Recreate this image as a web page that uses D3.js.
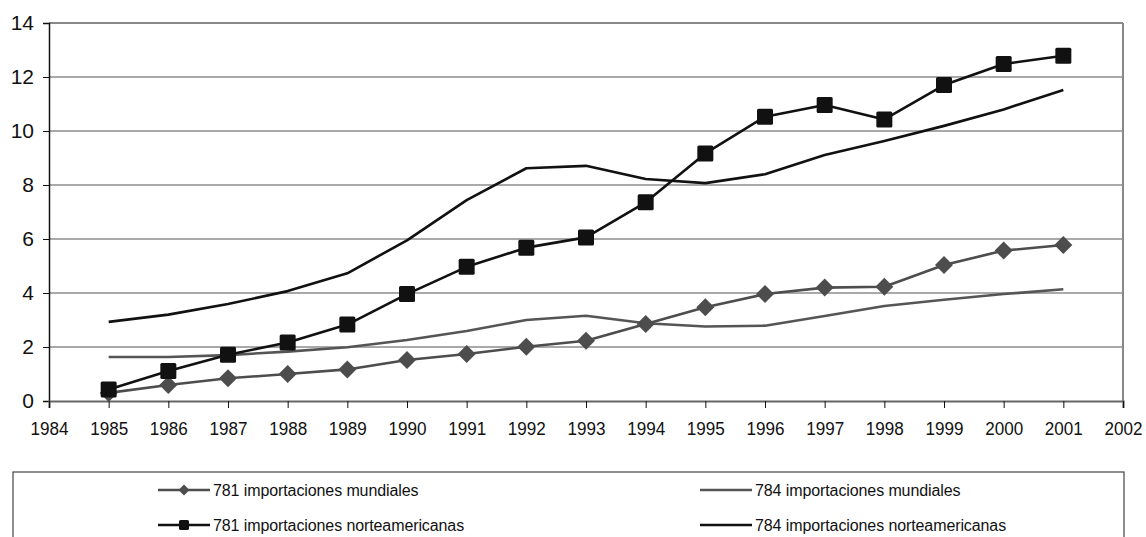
<!DOCTYPE html>
<html>
<head>
<meta charset="utf-8">
<script src="https://cdn.jsdelivr.net/npm/d3@7/dist/d3.min.js"></script>
<style>
  html, body { margin: 0; padding: 0; background: #fff; }
  svg { display: block; font-family: "Liberation Sans", Arial, sans-serif; }
</style>
</head>
<body>
<svg id="chart" width="1146" height="537"></svg>
<script>
// Years on the horizontal axis
const years = [1985, 1986, 1987, 1988, 1989, 1990, 1991, 1992, 1993, 1994, 1995, 1996, 1997, 1998, 1999, 2000, 2001];

// Series values
const mundiales781 = [0.3, 0.59, 0.84, 1.0, 1.17, 1.52, 1.74, 2.01, 2.23, 2.85, 3.47, 3.96, 4.2, 4.23, 5.04, 5.57, 5.78];
const mundiales784 = [1.63, 1.63, 1.7, 1.83, 1.99, 2.26, 2.59, 3.0, 3.16, 2.88, 2.76, 2.79, 3.15, 3.52, 3.75, 3.96, 4.14];
const norte781 = [0.43, 1.11, 1.71, 2.17, 2.83, 3.96, 4.97, 5.68, 6.06, 7.36, 9.17, 10.53, 10.96, 10.43, 11.7, 12.48, 12.79];
const norte784 = [2.93, 3.2, 3.59, 4.07, 4.73, 5.95, 7.44, 8.62, 8.71, 8.22, 8.07, 8.4, 9.11, 9.63, 10.19, 10.8, 11.52];

// Axis ticks
const xTicks = [1984, 1985, 1986, 1987, 1988, 1989, 1990, 1991, 1992, 1993, 1994, 1995, 1996, 1997, 1998, 1999, 2000, 2001, 2002];
const yTicks = [0, 2, 4, 6, 8, 10, 12, 14];

const seriesNames = [
  "781 importaciones mundiales",
  "784 importaciones mundiales",
  "781 importaciones norteamericanas",
  "784 importaciones norteamericanas"
];

const series = [
  { name: seriesNames[0], values: mundiales781, color: "#4d4d4d", marker: "diamond" },
  { name: seriesNames[1], values: mundiales784, color: "#555555", marker: null },
  { name: seriesNames[2], values: norte781, color: "#111111", marker: "square" },
  { name: seriesNames[3], values: norte784, color: "#111111", marker: null }
];

const svg = d3.select("#chart");
const plot = { left: 49, right: 1123, top: 23, bottom: 401 };

const x = d3.scaleLinear().domain([1984, 2002]).range([plot.left, plot.right]);
const y = d3.scaleLinear().domain([0, 14]).range([plot.bottom, plot.top]);

// Horizontal gridlines
svg.append("g")
  .selectAll("line")
  .data(yTicks.filter(v => v > 0 && v < 14))
  .join("line")
  .attr("x1", plot.left).attr("x2", plot.right)
  .attr("y1", d => y(d)).attr("y2", d => y(d))
  .attr("stroke", "#555").attr("stroke-width", 1.2);

// Plot frame: top and right edges
svg.append("line").attr("x1", plot.left).attr("x2", plot.right).attr("y1", plot.top).attr("y2", plot.top)
  .attr("stroke", "#888").attr("stroke-width", 2);
svg.append("line").attr("x1", plot.right).attr("x2", plot.right).attr("y1", plot.top).attr("y2", plot.bottom)
  .attr("stroke", "#888").attr("stroke-width", 2);

// Y axis
const yAxis = svg.append("g")
  .attr("transform", `translate(${plot.left},0)`)
  .call(d3.axisLeft(y).tickValues(yTicks).tickSize(6).tickPadding(9).tickFormat(d3.format("d")));
yAxis.select(".domain").attr("stroke", "#111").attr("stroke-width", 1.5);
yAxis.selectAll(".tick line").attr("stroke", "#111");
yAxis.selectAll(".tick text")
  .attr("font-size", 21).attr("fill", "#111")
  .attr("font-family", "Liberation Sans, Arial, sans-serif");

// X axis
const xAxis = svg.append("g")
  .attr("transform", `translate(0,${plot.bottom})`)
  .call(d3.axisBottom(x).tickValues(xTicks).tickSize(7).tickPadding(14).tickFormat(d3.format("d")));
xAxis.select(".domain").attr("stroke", "#666").attr("stroke-width", 2.2);
xAxis.selectAll(".tick line").attr("stroke", "#111");
xAxis.selectAll(".tick text")
  .attr("font-size", 18).attr("fill", "#111")
  .attr("font-family", "Liberation Sans, Arial, sans-serif")
  .attr("textLength", 38).attr("lengthAdjust", "spacingAndGlyphs");

// Lines
const line = d3.line()
  .x((d, i) => x(years[i]))
  .y(d => y(d));

function drawMarker(g, type, cx, cy, size, color) {
  if (type === "square") {
    g.append("rect")
      .attr("x", cx - size / 2).attr("y", cy - size / 2)
      .attr("width", size).attr("height", size)
      .attr("rx", 1.5)
      .attr("fill", color);
  } else if (type === "diamond") {
    const h = size / 2;
    g.append("path")
      .attr("d", `M${cx},${cy - h}L${cx + h},${cy}L${cx},${cy + h}L${cx - h},${cy}Z`)
      .attr("fill", color);
  }
}

// Draw order: plain lines first, then marker series on top
const drawOrder = [1, 3, 0, 2];
drawOrder.forEach(k => {
  const s = series[k];
  const g = svg.append("g");
  g.append("path")
    .datum(s.values)
    .attr("d", line)
    .attr("fill", "none")
    .attr("stroke", s.color)
    .attr("stroke-width", 2.6)
    .attr("stroke-linejoin", "round");
  if (s.marker) {
    s.values.forEach((v, i) => {
      drawMarker(g, s.marker, x(years[i]), y(v), s.marker === "square" ? 16 : 18, s.color);
    });
  }
});

// Legend
const legend = svg.append("g");
legend.append("rect")
  .attr("x", 13).attr("y", 472).attr("width", 1111).attr("height", 80)
  .attr("fill", "none").attr("stroke", "#444").attr("stroke-width", 1.2);

const legendPos = [
  { sx: 158, ty: 490 },
  { sx: 700, ty: 490 },
  { sx: 158, ty: 525 },
  { sx: 700, ty: 525 }
];

series.forEach((s, k) => {
  const p = legendPos[k];
  const g = legend.append("g");
  g.append("line")
    .attr("x1", p.sx).attr("x2", p.sx + 52)
    .attr("y1", p.ty).attr("y2", p.ty)
    .attr("stroke", s.color).attr("stroke-width", 2.6);
  if (s.marker) {
    drawMarker(g, s.marker, p.sx + 26, p.ty, s.marker === "square" ? 10 : 11, s.color);
  }
  g.append("text")
    .attr("x", p.sx + 55).attr("y", p.ty)
    .attr("dy", "0.35em")
    .attr("font-size", 16)
    .attr("fill", "#111")
    .attr("letter-spacing", -0.1)
    .text(s.name);
});
</script>
</body>
</html>
